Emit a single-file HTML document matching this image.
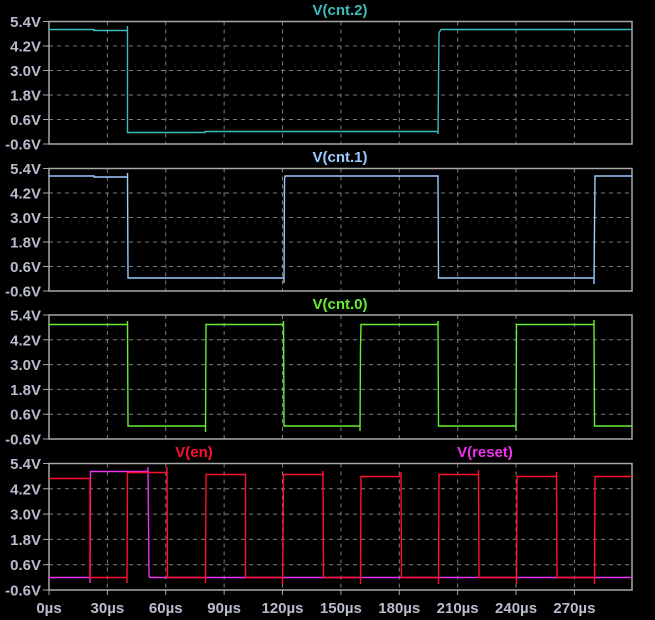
<!DOCTYPE html>
<html><head><meta charset="utf-8"><style>
body{margin:0;background:#000;}
svg{display:block;font-family:"Liberation Sans",Arial,sans-serif;font-weight:bold;}
</style></head><body>
<svg id="s" width="655" height="620" viewBox="0 0 655 620" xmlns="http://www.w3.org/2000/svg"></svg>
<script>
const s=document.getElementById('s');
const X0=49,X1=632,K=1.946;
const panes=[[21.5,144],[168.5,291],[315,439],[463.5,590]];
let h='';
function X(t){return X0+t*K;}
panes.forEach(([t,b],i)=>{
  const Y=v=>t+(5.4-v)/6*(b-t);
  // grid
  for(let k=1;k<10;k++){const x=X(30*k);h+=`<line x1="${x}" y1="${t}" x2="${x}" y2="${b}" stroke="#808080" stroke-dasharray="4,4"/>`;}
  [4.2,3.0,1.8,0.6].forEach(v=>{h+=`<line x1="${X0}" y1="${Y(v)}" x2="${X1}" y2="${Y(v)}" stroke="#808080" stroke-dasharray="4,4"/>`;});
  h+=`<rect x="${X0}" y="${t}" width="${X1-X0}" height="${b-t}" fill="none" stroke="#a8a8a8" stroke-width="1.5"/>`;
  [5.4,4.2,3.0,1.8,0.6,-0.6].forEach(v=>{
    const y=Y(v);
    h+=`<line x1="${X0-6}" y1="${y}" x2="${X0}" y2="${y}" stroke="#a8a8a8"/>`;
    h+=`<text x="${X0-8}" y="${y+5.5}" text-anchor="end" font-size="15" fill="#b8bccc">${v.toFixed(1)}V</text>`;
  });
});
// x labels
for(let k=0;k<10;k++){const x=X(30*k);h+=`<line x1="${x}" y1="590" x2="${x}" y2="595" stroke="#a8a8a8"/><text x="${x}" y="613" text-anchor="middle" font-size="15" fill="#b8bccc">${30*k}µs</text>`;}
function px(seg){return seg.map(p=>p.join(',')).join(' ');}
function line(pts,c){h+=`<polyline points="${px(pts)}" fill="none" stroke="${c}" stroke-width="1.4"/>`;}
// cnt.2
line([[49,29.5],[94,29.5],[94,30.5],[127.5,30.5],[127.5,26],[127.5,132.5],[205,132.5],[205,131.5],[438,131.5],[438,134],[439,33],[441,29.5],[632,29.5]],'#3cbcbc');
// cnt.1
line([[49,176],[94,176],[94,177],[127.5,177],[127.5,173],[128,278],[284,278],[284,283],[284.5,180],[285,176],[438,176],[438,177],[438.5,278],[594,278],[594,284],[595,176],[632,176]],'#99ccff');
// cnt.0
line([[49,324.5],[127.5,324.5],[127.5,321],[128,426],[205.5,426],[205.5,432],[206,324.5],[283.5,324.5],[283.5,321],[284,426],[360,426],[360,431],[360.5,348],[361,324.5],[438,324.5],[438,321],[438.5,426],[516,426],[516,431],[516.5,324.5],[594,324.5],[594,320],[594.5,426],[632,426]],'#66ee33');
// reset
line([[49,577.5],[90,577.5],[90,583],[90.5,471.5],[148,471.5],[148,467],[149,576],[150,577.5],[632,577.5]],'#ee33ee');
// en
line([[49,478.5],[90,478.5],[90,577.5],[127,577.5],[127,583],[127.5,472.5],[167,472.5],[167,467],[167.5,577.5],[205.5,577.5],[205.5,583],[206,474.5],[245.5,474.5],[245.5,577.5],[282.5,577.5],[282.5,584],[283,541],[283.5,474.5],[323,474.5],[323,471],[323.5,577.5],[360.5,577.5],[360.5,584],[361,476.5],[401,476.5],[401,472],[401.5,577.5],[438.5,577.5],[438.5,584],[439,474.5],[478.5,474.5],[478.5,470],[479,577.5],[516.5,577.5],[516.5,584],[517,476.5],[556.5,476.5],[556.5,472],[557,577.5],[594.5,577.5],[594.5,584],[595,476.5],[632,476.5]],'#ff1030');
// titles
h+=`<text x="340" y="15" text-anchor="middle" font-size="15" fill="#3cbcbc">V(cnt.2)</text>`;
h+=`<text x="340" y="162" text-anchor="middle" font-size="15" fill="#99ccff">V(cnt.1)</text>`;
h+=`<text x="340" y="309" text-anchor="middle" font-size="15" fill="#66ee33">V(cnt.0)</text>`;
h+=`<text x="194" y="457" text-anchor="middle" font-size="15" fill="#ff1030">V(en)</text>`;
h+=`<text x="485" y="457" text-anchor="middle" font-size="15" fill="#ee33ee">V(reset)</text>`;
s.innerHTML=h;
</script>
</body></html>
